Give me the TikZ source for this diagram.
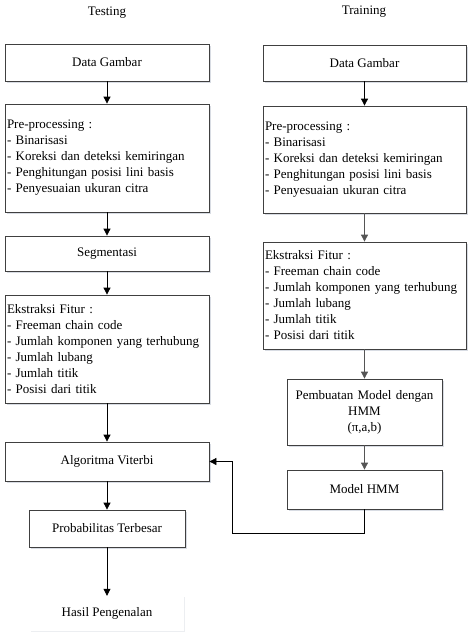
\documentclass[tikz,border=0pt]{standalone}
\usepackage{fontspec}
\setmainfont{Liberation Serif}
\usetikzlibrary{arrows.meta,shadows}
\definecolor{bordergray}{RGB}{64,64,64}
\definecolor{arrowgray}{RGB}{85,85,85}
\definecolor{shadowcol}{RGB}{200,205,215}
\begin{document}
\begin{tikzpicture}[x=1pt,y=-1pt,
  every node/.style={font=\fontsize{13}{16}\selectfont},
  boxnode/.style={draw=bordergray, line width=0.8pt, fill=white, inner xsep=2pt, inner ysep=0pt,
    drop shadow={shadow xshift=1.5pt, shadow yshift=-1.5pt, fill=shadowcol, opacity=0.7}},
  cbox/.style={boxnode, align=center},
  lbox/.style={boxnode, align=left},
  plain/.style={fill=white, inner sep=0pt,
    drop shadow={shadow xshift=1pt, shadow yshift=-1pt, fill=shadowcol, opacity=0.35}},
  tarrow/.style={draw=black, line width=0.8pt, -{Triangle[width=7pt,length=7pt]}},
  rarrow/.style={draw=arrowgray, line width=0.8pt, -{Triangle[width=7pt,length=7pt]}}
]
\useasboundingbox (0,0) rectangle (472,638);

% titles
\node (ttitle) at (107,13) {Testing};
\node (rtitle) at (364,12) {Training};

% Testing column
\node[cbox, minimum width=204pt, minimum height=37pt] (tDG) at (107,62.5) {Data Gambar};
\node[lbox, text width=200pt, minimum height=108pt] (tPP) at (107,158) {Pre-processing :\\- Binarisasi\\- Koreksi dan deteksi kemiringan\\- Penghitungan posisi lini basis\\- Penyesuaian ukuran citra};
\node[cbox, minimum width=204pt, minimum height=35pt] (tSeg) at (107,253.5) {Segmentasi};
\node[lbox, text width=200pt, minimum height=108pt] (tEF) at (107,349) {Ekstraksi Fitur :\\- Freeman chain code\\- Jumlah komponen yang terhubung\\- Jumlah lubang\\- Jumlah titik\\- Posisi dari titik};
\node[cbox, minimum width=204pt, minimum height=39pt] (tAV) at (107,461.5) {Algoritma Viterbi};
\node[cbox, minimum width=156pt, minimum height=37pt] (tPT) at (107,528.5) {Probabilitas Terbesar};
\node[plain, minimum width=154pt, minimum height=35pt] (tHP) at (107,613.5) {Hasil Pengenalan};

% Training column
\node[cbox, minimum width=203pt, minimum height=36pt] (rDG) at (364.5,63) {Data Gambar};
\node[lbox, text width=199pt, minimum height=107pt] (rPP) at (364.5,159.5) {Pre-processing :\\- Binarisasi\\- Koreksi dan deteksi kemiringan\\- Penghitungan posisi lini basis\\- Penyesuaian ukuran citra};
\node[lbox, text width=199pt, minimum height=107pt] (rEF) at (364.5,295.5) {Ekstraksi Fitur :\\- Freeman chain code\\- Jumlah komponen yang terhubung\\- Jumlah lubang\\- Jumlah titik\\- Posisi dari titik};
\node[cbox, text width=151pt, minimum height=66pt] (rPM) at (364.5,412) {Pembuatan Model dengan\\HMM\\(π,a,b)};
\node[cbox, minimum width=155pt, minimum height=39pt] (rMH) at (364.5,489.5) {Model HMM};

% Testing arrows
\draw[tarrow] (tDG) -- (tPP);
\draw[tarrow] (tPP) -- (tSeg);
\draw[tarrow] (tSeg) -- (tEF);
\draw[tarrow] (tEF) -- (tAV);
\draw[tarrow] (tAV) -- (tPT);
\draw[tarrow] (tPT) -- (tHP.north);

% Training arrows
\draw[tarrow] (rDG) -- (rPP);
\draw[rarrow] (rPP) -- (rEF);
\draw[rarrow] (rEF) -- (rPM);
\draw[rarrow] (rPM) -- (rMH);

% feedback
\coordinate (fb1) at (364.5,533);
\coordinate (fb2) at (232,533);
\coordinate (fb3) at (232,461.5);
\draw[tarrow] (rMH.south) -- (fb1) -- (fb2) -- (fb3) -- (tAV.east);
\end{tikzpicture}
\end{document}
